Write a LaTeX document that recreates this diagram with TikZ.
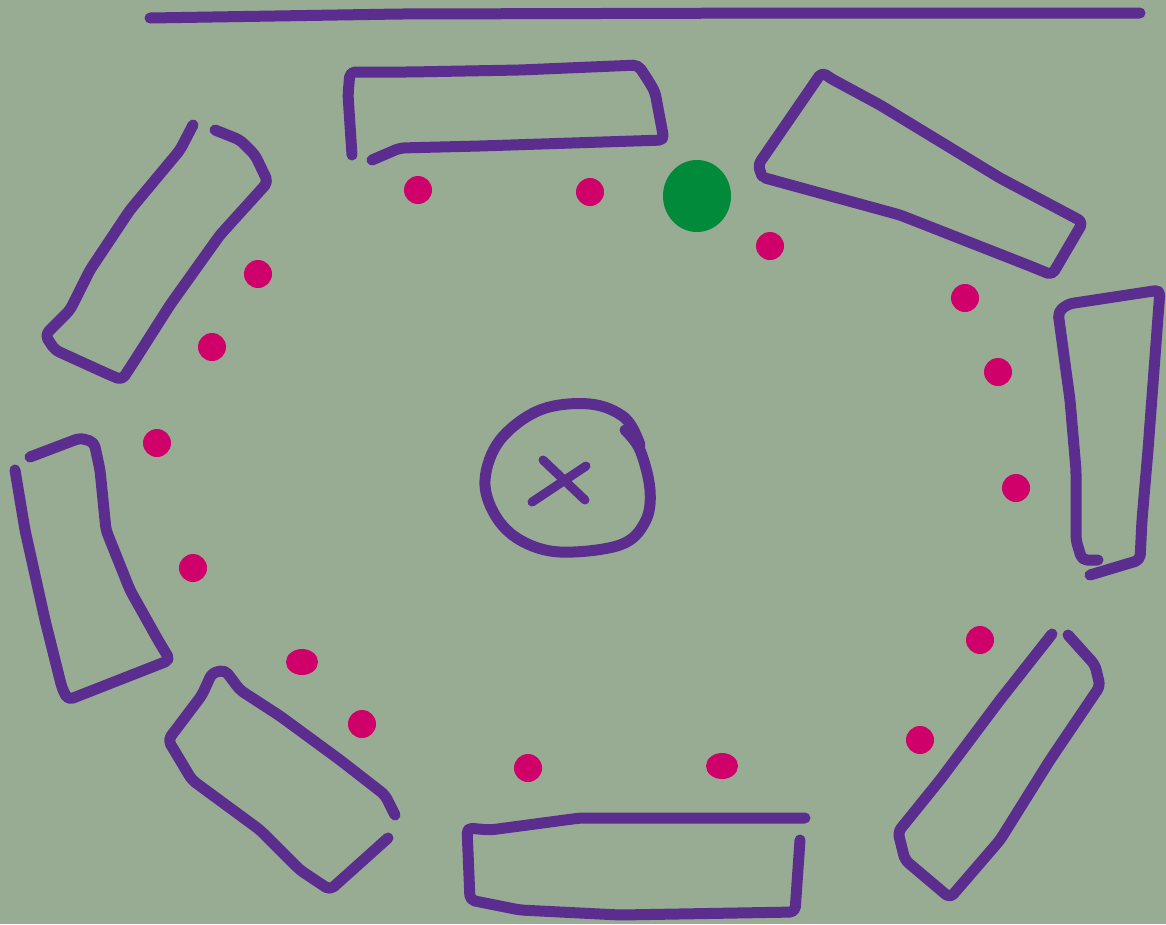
\documentclass[tikz,border=0pt]{standalone}
\definecolor{bg}{HTML}{98AC94}
\definecolor{pur}{HTML}{5B2D8F}
\definecolor{seat}{HTML}{D0006A}
\definecolor{host}{HTML}{008A3A}
\begin{document}
\begin{tikzpicture}[x=1pt,y=-1pt,
  pen/.style={draw=pur,line width=11pt,line cap=round,line join=round,rounded corners=5pt},
  chair/.style={fill=seat},
  hostseat/.style={fill=host}]
\fill[bg] (0,0) rectangle (1166,924);
\useasboundingbox (0,0) rectangle (1166,924);
% wall line
\draw[pen] (150,18) -- (400,14) -- (800,13) -- (1140,13);
% top table
\draw[pen] (352,155) -- (348,95) -- (350,72) -- (410,72) -- (520,70) -- (638,65) -- (648,80) -- (655,92) -- (664,140) -- (480,146) -- (400,148) -- (372,160);
% top-right table
\draw[pen] (762,176) -- (758,165) -- (822,72) -- (830,78) -- (880,105) -- (1000,178) -- (1083,222) -- (1052,275) -- (1030,266) -- (900,215) -- (765,178);
% right table
\draw[pen] (1090,575) -- (1140,560) -- (1142,520) -- (1148,450) -- (1160,290) -- (1068,304) -- (1058,312) -- (1070,400) -- (1076,470) -- (1076,540) -- (1082,560) -- (1098,560);
% bottom-right table
\draw[pen] (1052,634) -- (1000,700) -- (940,780) -- (898,832) -- (905,860) -- (950,898) -- (1000,840) -- (1050,760) -- (1100,686) -- (1095,665) -- (1068,635);
% bottom table
\draw[pen] (800,840) -- (795,912) -- (620,915) -- (520,910) -- (470,900) -- (467,828) -- (490,830) -- (580,818) -- (805,818);
% bottom-left table
\draw[pen] (395,815) -- (385,795) -- (340,760) -- (280,716) -- (240,690) -- (225,670) -- (212,673) -- (202,695) -- (168,740) -- (192,780) -- (260,830) -- (300,870) -- (330,890) -- (388,838);
% left table
\draw[pen] (30,457) -- (80,438) -- (94,442) -- (100,470) -- (106,530) -- (130,590) -- (158,640) -- (170,660) -- (68,700) -- (62,688) -- (45,620) -- (25,530) -- (15,470);
% top-left table
\draw[pen] (193,125) -- (180,150) -- (130,210) -- (90,270) -- (70,310) -- (45,335) -- (55,350) -- (110,375) -- (122,380) -- (135,360) -- (170,305) -- (220,235) -- (268,182) -- (255,155) -- (240,140) -- (215,130);
% centre round table
\draw[pen,rounded corners=0pt] plot[smooth,tension=0.6] coordinates {(625,430) (640,450) (650,490) (645,522) (620,545) (560,552) (520,540) (495,515) (485,480) (500,440) (540,410) (590,404) (625,418) (640,445)};
\draw[pen,line width=9pt] (543,460) -- (585,500);
\draw[pen,line width=9pt] (532,502) -- (586,466);
% seats
\foreach \p in {(418,190),(590,192),(770,246),(965,298),(998,372),(1016,488),(980,640),(920,740),(528,768),(362,724),(193,568),(157,443),(212,347),(258,274)}
  \fill[chair] \p circle (14);
\fill[chair] (302,662) ellipse (16 and 13);
\fill[chair] (722,766) ellipse (16 and 13);
% host seat
\fill[hostseat] (697,196) ellipse (34 and 36);
\end{tikzpicture}
\end{document}
